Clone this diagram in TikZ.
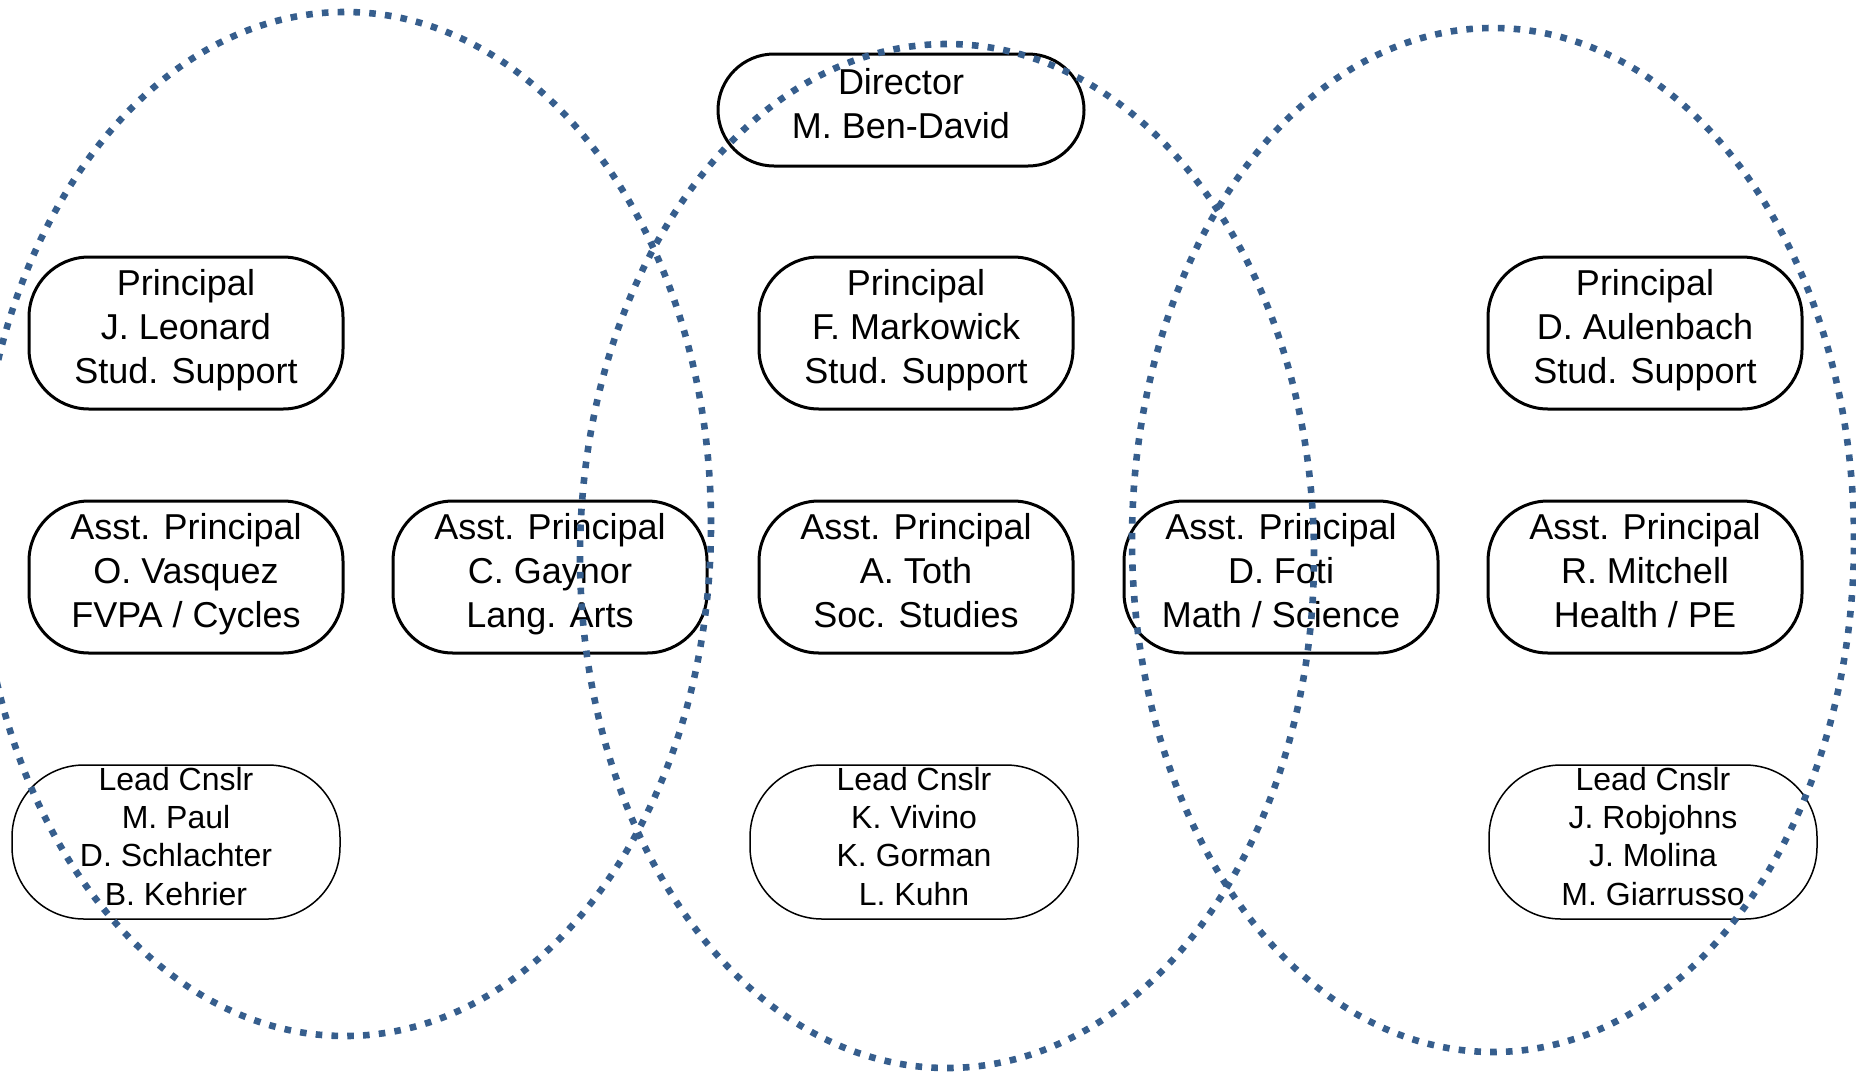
\documentclass[tikz,border=0pt]{standalone}
\usepackage{fontspec}
\setmainfont{Liberation Sans}
\definecolor{ringblue}{RGB}{54,94,141}
\tikzset{
  staff/.style={draw, line width=1.5pt, rounded corners=30pt, inner sep=0pt,
    minimum width=157pt, minimum height=76pt, align=center,
    execute at begin node=\strut, execute at end node=\strut,
    font=\fontsize{18}{22}\selectfont},
  chief/.style={staff, rounded corners=28pt, minimum width=183pt, minimum height=56pt},
  cnslr/.style={draw, line width=0.75pt, rounded corners=36pt, inner sep=0pt,
    minimum width=164pt, minimum height=77pt, align=center,
    execute at begin node=\strut, execute at end node=\strut,
    font=\fontsize{16}{19.1}\selectfont},
  ring/.style={draw=ringblue, line width=3.3pt, dash pattern=on 3.3pt off 4.6pt}
}
\begin{document}
\begin{tikzpicture}[x=1pt, y=-1pt]
  \useasboundingbox (0,0) rectangle (928,535.5);
  \node[chief] (dir) at (450.5,55) {Director\\M. Ben-David};
  \node[staff] (prinL) at (93,166.5) {Principal\\J. Leonard\\Stud. Support};
  \node[staff] (prinM) at (458,166.5) {Principal\\F. Markowick\\Stud. Support};
  \node[staff] (prinR) at (822.5,166.5) {Principal\\D. Aulenbach\\Stud. Support};
  \node[staff] (apVasquez) at (93,288.5) {Asst. Principal\\O. Vasquez\\FVPA / Cycles};
  \node[staff] (apGaynor) at (275,288.5) {Asst. Principal\\C. Gaynor\\Lang. Arts};
  \node[staff] (apToth) at (458,288.5) {Asst. Principal\\A. Toth\\Soc. Studies};
  \node[staff] (apFoti) at (640.5,288.5) {Asst. Principal\\D. Foti\\Math / Science};
  \node[staff] (apMitchell) at (822.5,288.5) {Asst. Principal\\R. Mitchell\\Health / PE};
  \node[cnslr] (leadL) at (88,421) {Lead Cnslr\\M. Paul\\D. Schlachter\\B. Kehrier};
  \node[cnslr] (leadM) at (457,421) {Lead Cnslr\\K. Vivino\\K. Gorman\\L. Kuhn};
  \node[cnslr] (leadR) at (826.5,421) {Lead Cnslr\\J. Robjohns\\J. Molina\\M. Giarrusso};
  % dotted rings round each house
  \foreach \cx/\cy/\rx in {172.5/262/183, 473.5/278/183.5, 746.5/270/180.5}
    \draw[ring] (\cx,\cy) ellipse [x radius=\rx pt, y radius=256pt];
\end{tikzpicture}
\end{document}
